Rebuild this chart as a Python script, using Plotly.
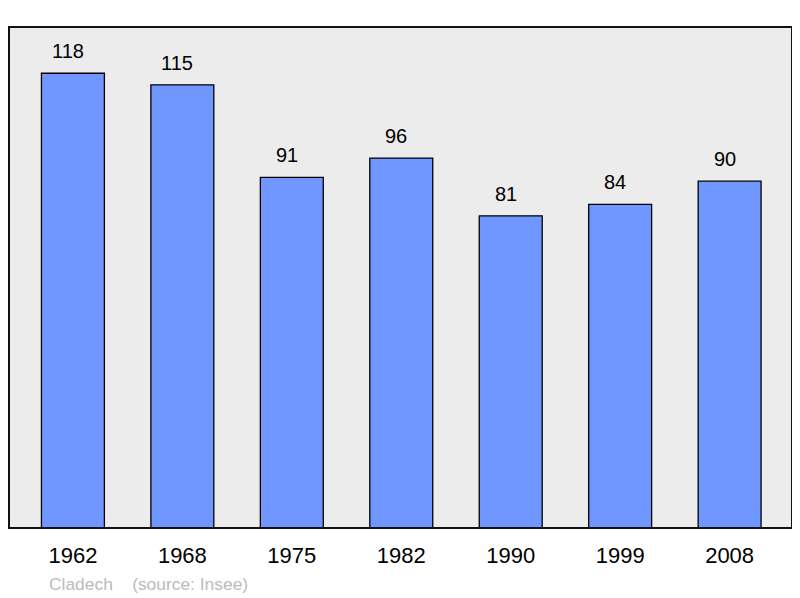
import plotly.graph_objects as go

years = ["1962", "1968", "1975", "1982", "1990", "1999", "2008"]
population = [118, 115, 91, 96, 81, 84, 90]

xpos = list(range(len(years)))

fig = go.Figure()
fig.add_trace(go.Bar(
    x=xpos, y=population,
    width=0.575,
    marker=dict(color="#7096FF", line=dict(color="black", width=1.3)),
    hoverinfo="skip",
))

for i, v in enumerate(population):
    fig.add_annotation(x=i, y=v, text=str(v), showarrow=False,
                       yanchor="bottom", yshift=9, xshift=-5,
                       font=dict(family="Liberation Sans, Arial", size=20, color="black"))

fig.add_annotation(xref="paper", yref="paper", x=0.048, y=-0.112,
                   xanchor="left", yanchor="middle", showarrow=False,
                   text="Cladech &nbsp;&nbsp;&nbsp;(source: Insee)",
                   font=dict(family="Liberation Sans, Arial", size=17.4, color="#bbbbbb"))

fig.add_shape(type="rect", xref="paper", yref="paper", x0=0, y0=0, x1=1, y1=1,
              line=dict(color="#111111", width=2), layer="above")

# page body has an 8px margin, so the figure is sized to sit inside it
fig.update_layout(
    width=785, height=590,
    margin=dict(l=1, r=1, t=19, b=70),
    paper_bgcolor="white", plot_bgcolor="#ECECEC",
    showlegend=False,
    xaxis=dict(range=[-0.584, 6.57], tickvals=xpos, ticktext=years,
               showgrid=False, zeroline=False, ticks="outside", ticklen=8,
               tickcolor="rgba(0,0,0,0)",
               tickfont=dict(family="Liberation Sans, Arial", size=22, color="black")),
    yaxis=dict(range=[0, 130], visible=False, showgrid=False, zeroline=False),
)

fig.write_html("out.html")
